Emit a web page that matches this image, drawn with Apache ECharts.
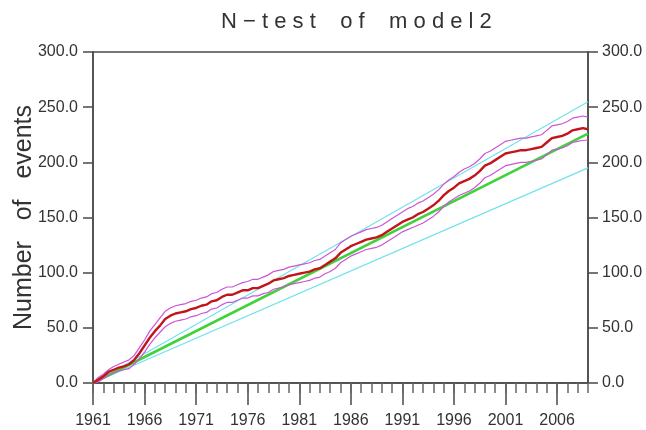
<!DOCTYPE html>
<html>
<head>
<meta charset="utf-8">
<script src="https://cdn.jsdelivr.net/npm/echarts@6.0.0/dist/echarts.min.js"></script>
<style>
  html,body{margin:0;padding:0;background:#fff;}
  #main{width:646px;height:430px;}
</style>
</head>
<body>
<div id="main"></div>
<script>
// half-year steps, 1961.0 .. 2009.0
const years = [
  1961,1961.5,1962,1962.5,1963,1963.5,1964,1964.5,1965,1965.5,
  1966,1966.5,1967,1967.5,1968,1968.5,1969,1969.5,1970,1970.5,
  1971,1971.5,1972,1972.5,1973,1973.5,1974,1974.5,1975,1975.5,
  1976,1976.5,1977,1977.5,1978,1978.5,1979,1979.5,1980,1980.5,
  1981,1981.5,1982,1982.5,1983,1983.5,1984,1984.5,1985,1985.5,
  1986,1986.5,1987,1987.5,1988,1988.5,1989,1989.5,1990,1990.5,
  1991,1991.5,1992,1992.5,1993,1993.5,1994,1994.5,1995,1995.5,
  1996,1996.5,1997,1997.5,1998,1998.5,1999,1999.5,2000,2000.5,
  2001,2001.5,2002,2002.5,2003,2003.5,2004,2004.5,2005,2005.5,
  2006,2006.5,2007,2007.5,2008,2008.5,2009
];
// observed cumulative number of events (red)
const observed = [
  0,3, 6,10, 12,14, 15,17, 21,27,
  34,41, 47,52, 58,61, 63,64, 65,67,
  68,70, 71,74, 75,78, 80,80, 82,84,
  84,86, 86,88, 90,93, 94,95, 97,98,
  99,100, 101,103, 104,107, 110,113, 118,121,
  124,126, 128,130, 131,132, 134,137, 140,143,
  146,148, 150,153, 155,158, 161,165, 170,174,
  177,181, 183,185, 188,192, 197,199, 202,205,
  208,209, 210,211, 211,212, 213,214, 218,222,
  223,224, 226,229, 230,231, 230
];
// magenta bounds around the observed curve
const obsUpper = [
  0,5, 8,12, 15,17, 19,21, 25,32,
  39,47, 53,59, 65,68, 70,71, 72,74,
  75,77, 78,81, 82,85, 87,87, 89,91,
  92,94, 94,96, 98,101, 102,103, 105,106,
  107,108, 109,111, 112,115, 118,121, 127,130,
  133,135, 137,139, 140,141, 143,146, 149,152,
  155,158, 160,163, 165,168, 171,175, 180,184,
  187,191, 194,196, 199,203, 208,210, 213,216,
  219,220, 221,222, 222,223, 224,225, 229,233,
  234,235, 237,240, 241,242, 241
];
const obsLower = [
  0,1, 4,7, 9,11, 12,13, 17,22,
  28,35, 41,46, 51,54, 56,57, 58,60,
  61,63, 64,67, 68,71, 73,73, 75,77,
  77,79, 79,81, 82,85, 86,87, 89,90,
  91,92, 93,95, 96,99, 101,104, 109,112,
  115,117, 119,121, 122,123, 125,128, 131,134,
  137,139, 141,143, 145,148, 151,155, 160,164,
  167,170, 172,174, 177,181, 186,188, 191,194,
  197,198, 199,200, 200,201, 202,203, 207,211,
  212,213, 215,218, 219,220, 220
];
// forecast (green) and its confidence limits (cyan)
const lineYears = [1961, 2009];
const forecast = [0, 226];
const limitHigh = [0, 255];
const limitLow = [0, 195];

const majorYears = [1961,1966,1971,1976,1981,1986,1991,1996,2001,2006];

const pairs = (xs, ys) => xs.map((x, i) => [x, ys[i]]);

const axisCol = '#4a4a4a';
const textCol = '#333';
const font = 'Liberation Sans, Arial, sans-serif';

const chart = echarts.init(document.getElementById('main'));

const yCommon = {
  type: 'value', min: 0, max: 300, interval: 50,
  axisLine: {show: true, lineStyle: {color: axisCol, width: 1.5}},
  axisTick: {show: true, length: 10, lineStyle: {color: axisCol, width: 1.5}},
  splitLine: {show: false}
};

const option = {
  animation: false,
  backgroundColor: '#fff',
  title: {
    text: 'N \u2212 t e s t    o f    m o d e l 2',
    left: 216, top: 6,
    textStyle: {fontFamily: font, fontSize: 22, fontWeight: 'normal', color: textCol}
  },
  grid: {left: 93, right: 58, top: 52, bottom: 47, show: true, borderColor: axisCol, borderWidth: 1.5,
    containLabel: false, outerBoundsMode: 'none'},
  xAxis: [
    {
      type: 'value', min: 1961, max: 2009, position: 'bottom',
      axisLine: {show: true, onZero: false, lineStyle: {color: axisCol, width: 1.5}},
      axisTick: {show: true, length: 22, customValues: majorYears, lineStyle: {color: axisCol, width: 1.5}},
      axisLabel: {customValues: majorYears, margin: 30, fontFamily: font, fontSize: 16, color: textCol,
        formatter: v => String(v)},
      splitLine: {show: false}
    },
    {
      type: 'value', min: 1961, max: 2009, interval: 1, position: 'bottom',
      axisLine: {show: false, onZero: false},
      axisTick: {show: true, length: 10, lineStyle: {color: '#666', width: 1.5}},
      axisLabel: {show: false},
      splitLine: {show: false}
    }
  ],
  yAxis: [
    Object.assign({}, yCommon, {
      position: 'left',
      name: 'Number   of   events',
      nameLocation: 'middle',
      nameGap: 56,
      nameMoveOverlap: false,
      nameTextStyle: {fontFamily: font, fontSize: 25, color: textCol},
      axisLabel: {margin: 15, fontFamily: font, fontSize: 16, color: textCol, padding: [0, 0, 8, 0],
        formatter: v => v.toFixed(1)}
    }),
    Object.assign({}, yCommon, {
      position: 'right',
      axisLabel: {margin: 14, fontFamily: font, fontSize: 16, color: textCol, padding: [0, 0, 8, 0],
        formatter: v => v.toFixed(1)}
    })
  ],
  series: [
    {type: 'line', data: pairs(lineYears, limitHigh), showSymbol: false, lineStyle: {color: '#6fe3ea', width: 1.2}},
    {type: 'line', data: pairs(lineYears, limitLow), showSymbol: false, lineStyle: {color: '#6fe3ea', width: 1.2}},
    {type: 'line', data: pairs(lineYears, forecast), showSymbol: false, lineStyle: {color: '#3fd23a', width: 2.6}},
    {type: 'line', data: pairs(years, obsUpper), showSymbol: false, lineStyle: {color: '#cc55d6', width: 1.2}},
    {type: 'line', data: pairs(years, obsLower), showSymbol: false, lineStyle: {color: '#cc55d6', width: 1.2}},
    {type: 'line', data: pairs(years, observed), showSymbol: false, lineStyle: {color: '#c2141a', width: 2.4}}
  ]
};

chart.setOption(option);
</script>
</body>
</html>
